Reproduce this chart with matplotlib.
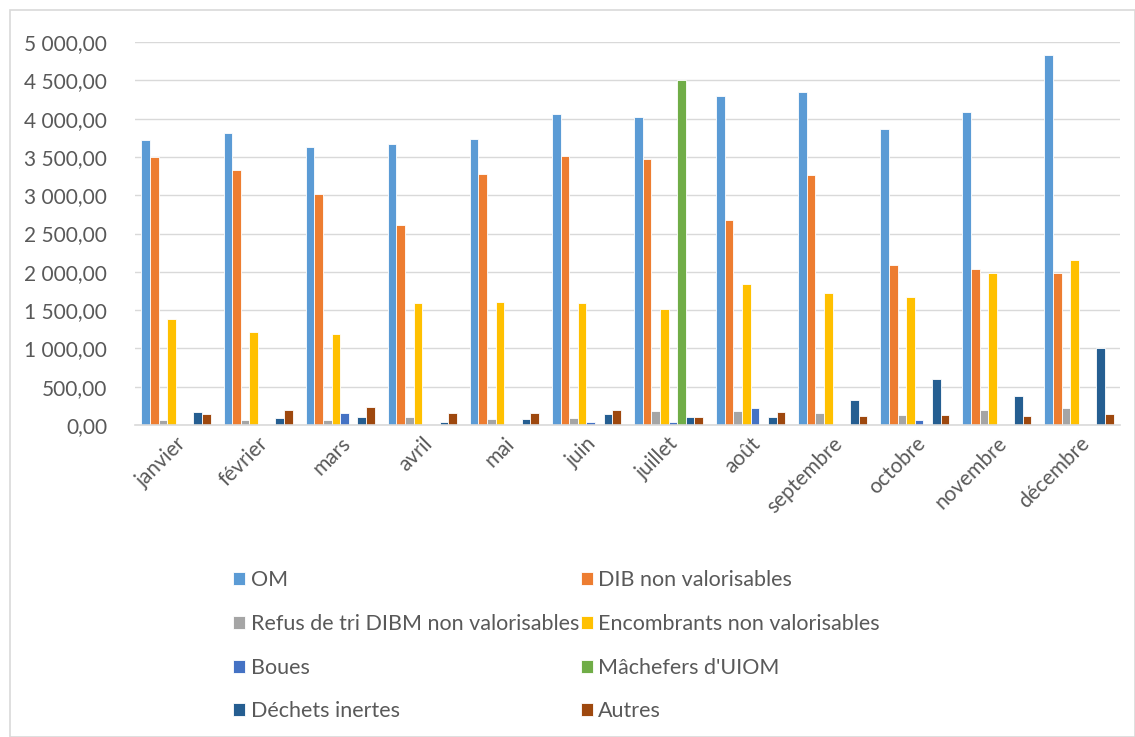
import numpy as np
import matplotlib
matplotlib.use("Agg")
import matplotlib.pyplot as plt
from matplotlib.ticker import FuncFormatter
from matplotlib.patches import Rectangle

plt.rcParams['font.family'] = ['Lato', 'DejaVu Sans']

mois = ['janvier', 'février', 'mars', 'avril', 'mai', 'juin', 'juillet',
        'août', 'septembre', 'octobre', 'novembre', 'décembre']

om = [3720, 3810, 3630, 3670, 3740, 4060, 4020, 4290, 4350, 3860, 4090, 4830]
dib = [3500, 3330, 3020, 2610, 3280, 3510, 3470, 2670, 3270, 2090, 2040, 1980]
refus = [70, 60, 60, 110, 75, 85, 185, 180, 160, 125, 195, 220]
encombrants = [1390, 1210, 1190, 1590, 1600, 1590, 1510, 1840, 1720, 1670, 1980, 2160]
boues = [0, 0, 160, 0, 0, 35, 40, 225, 5, 60, 0, 0]
machefers = [0, 0, 0, 0, 0, 0, 4510, 0, 0, 0, 0, 0]
inertes = [170, 95, 110, 45, 80, 145, 105, 105, 325, 600, 380, 1000]
autres = [145, 195, 230, 155, 160, 200, 105, 175, 120, 130, 120, 150]

series = [
    ("OM", om, "#5B9BD5"),
    ("DIB non valorisables", dib, "#ED7D31"),
    ("Refus de tri DIBM non valorisables", refus, "#A5A5A5"),
    ("Encombrants non valorisables", encombrants, "#FFC000"),
    ("Boues", boues, "#4472C4"),
    ("Mâchefers d'UIOM", machefers, "#70AD47"),
    ("Déchets inertes", inertes, "#255E91"),
    ("Autres", autres, "#9E480E"),
]

fig = plt.figure(figsize=(11.35, 7.37), dpi=100)
ax = fig.add_axes([135 / 1135, 1 - 425 / 737, 985 / 1135, 383 / 737])

# cadre gris autour du graphique
fig.patches.append(Rectangle((10 / 1135, 0), 1125 / 1135, 1 - 10 / 737,
                             transform=fig.transFigure, fill=False,
                             edgecolor="#d9d9d9", linewidth=1.2))

x = np.arange(len(mois))
n = len(series)
w = 1 / (n + 1.5)
handles = []
for i, (nom, vals, col) in enumerate(series):
    b = ax.bar(x + (i - (n - 1) / 2) * w, vals, width=w, color=col,
               edgecolor="white", linewidth=0.6, label=nom)
    handles.append(b)

ax.set_xlim(-0.5, len(mois) - 0.5)
ax.set_ylim(0, 5000)
ax.set_yticks(np.arange(0, 5001, 500))
fmt = lambda v, p: f"{v:,.2f}".replace(",", " ").replace(".", ",")
ax.yaxis.set_major_formatter(FuncFormatter(fmt))
ax.grid(axis="y", color="#d9d9d9", linewidth=1)
ax.set_axisbelow(True)
for s in ["left", "right", "top"]:
    ax.spines[s].set_visible(False)
ax.spines["bottom"].set_color("#d9d9d9")
ax.spines["bottom"].set_linewidth(1.2)
ax.tick_params(axis="both", length=0, labelsize=15, labelcolor="#595959")
ax.tick_params(axis="y", pad=20)
ax.tick_params(axis="x", pad=6)
ax.set_xticks(x)
ax.set_xticklabels(mois, rotation=45, ha="right", rotation_mode="anchor")

# ordre Excel : ligne par ligne -> réordonner pour matplotlib (colonnes)
order = [0, 2, 4, 6, 1, 3, 5, 7]
fig.legend([handles[k] for k in order], [series[k][0] for k in order],
           ncol=2, loc="upper left", bbox_to_anchor=(214 / 1135, 1 - 551 / 737),
           frameon=False, fontsize=15.5, labelcolor="#595959",
           handlelength=0.55, handleheight=0.55, handletextpad=0.25,
           columnspacing=0.1, labelspacing=1.1)

fig.savefig("out.png", dpi=100)
